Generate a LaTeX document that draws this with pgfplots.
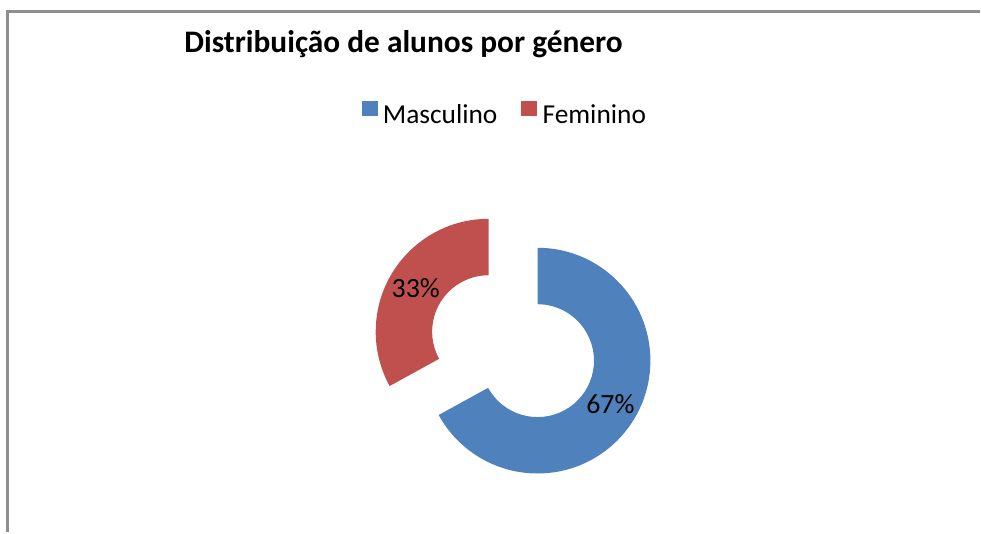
\documentclass[border=0pt]{standalone}
\usepackage{pgfplots}
\usepackage{pgfplotstable}
\pgfplotsset{compat=1.18}
\usepackage{fontspec}
\setmainfont{Carlito}
\definecolor{blueC}{HTML}{4F81BD}
\definecolor{redC}{HTML}{C0504D}
\definecolor{frameC}{HTML}{8E8E8E}
\pgfplotstableread{
label value
Masculino 67
Feminino 33
}\gendata
\begin{document}
\begin{tikzpicture}
\pgfplotstablegetelem{0}{value}\of\gendata \let\vM\pgfplotsretval
\pgfplotstablegetelem{1}{value}\of\gendata \let\vF\pgfplotsretval
% geometry (pixel units)
\pgfmathsetmacro\cx{513.7}\pgfmathsetmacro\cy{186.4}
\pgfmathsetmacro\dd{28.5}\pgfmathsetmacro\rm{84.75}
\pgfmathsetmacro\ro{113}\pgfmathsetmacro\ri{56.5}
\pgfmathsetmacro\aM{\vM/(\vM+\vF)*360}
\pgfmathsetmacro\aF{\vF/(\vM+\vF)*360}
% Masculino: clockwise from 12 o'clock
\pgfmathsetmacro\bisM{90-\aM/2}
\pgfmathsetmacro\endM{90-\aM}
\pgfmathsetmacro\mx{\cx+\dd*cos(\bisM)}\pgfmathsetmacro\my{\cy+\dd*sin(\bisM)}
\pgfmathsetmacro\msy{\my+\ro}
\pgfmathsetmacro\mix{\mx+\ri*cos(\endM)}\pgfmathsetmacro\miy{\my+\ri*sin(\endM)}
\pgfmathsetmacro\mlx{\mx+\rm*cos(\bisM)}\pgfmathsetmacro\mly{\my+\rm*sin(\bisM)}
% Feminino: counterclockwise from 12 o'clock
\pgfmathsetmacro\bisF{90+\aF/2}
\pgfmathsetmacro\endF{90+\aF}
\pgfmathsetmacro\fx{\cx+\dd*cos(\bisF)}\pgfmathsetmacro\fy{\cy+\dd*sin(\bisF)}
\pgfmathsetmacro\fsy{\fy+\ro}
\pgfmathsetmacro\fix{\fx+\ri*cos(\endF)}\pgfmathsetmacro\fiy{\fy+\ri*sin(\endF)}
\pgfmathsetmacro\flx{\fx+\rm*cos(\bisF)}\pgfmathsetmacro\fly{\fy+\rm*sin(\bisF)}
\begin{axis}[
  scale only axis, width=981bp, height=533bp,
  xmin=0, xmax=981, ymin=0, ymax=533,
  hide axis, clip=false,
  legend style={at={(axis cs:505.5,419)}, anchor=center, draw=none, fill=none,
    legend columns=2, font=\fontsize{27.5}{32}\selectfont, inner sep=0pt,
    /tikz/every even column/.append style={column sep=22bp}},
  legend cell align=left,
  legend image code/.code={\fill[#1,draw=none] (0bp,-1.5bp) rectangle (16bp,14bp);
    \path (19bp,0bp);},
]
\path (axis cs:0,0) rectangle (axis cs:981,533);
\draw[line width=2.5bp, frameC] (axis cs:7.3,0) -- (axis cs:7.3,521.7) -- (axis cs:981,521.7);
\addlegendimage{fill=blueC}
\addlegendentry{Masculino}
\addlegendimage{fill=redC}
\addlegendentry{Feminino}
\fill[blueC] (axis cs:\mx,\msy) arc[start angle=90, end angle=\endM, radius=113bp]
  -- (axis cs:\mix,\miy) arc[start angle=\endM, end angle=90, radius=56.5bp] -- cycle;
\fill[redC] (axis cs:\fx,\fsy) arc[start angle=90, end angle=\endF, radius=113bp]
  -- (axis cs:\fix,\fiy) arc[start angle=\endF, end angle=90, radius=56.5bp] -- cycle;
\node[font=\fontsize{28}{32}\selectfont] at (axis cs:\mlx,\mly) {\vM\%};
\node[font=\fontsize{28}{32}\selectfont] at (axis cs:\flx,\fly) {\vF\%};
\node[anchor=base, font=\bfseries\fontsize{31.5}{36}\selectfont] at (axis cs:404,480) {Distribuição de alunos por género};
\end{axis}
\end{tikzpicture}
\end{document}
